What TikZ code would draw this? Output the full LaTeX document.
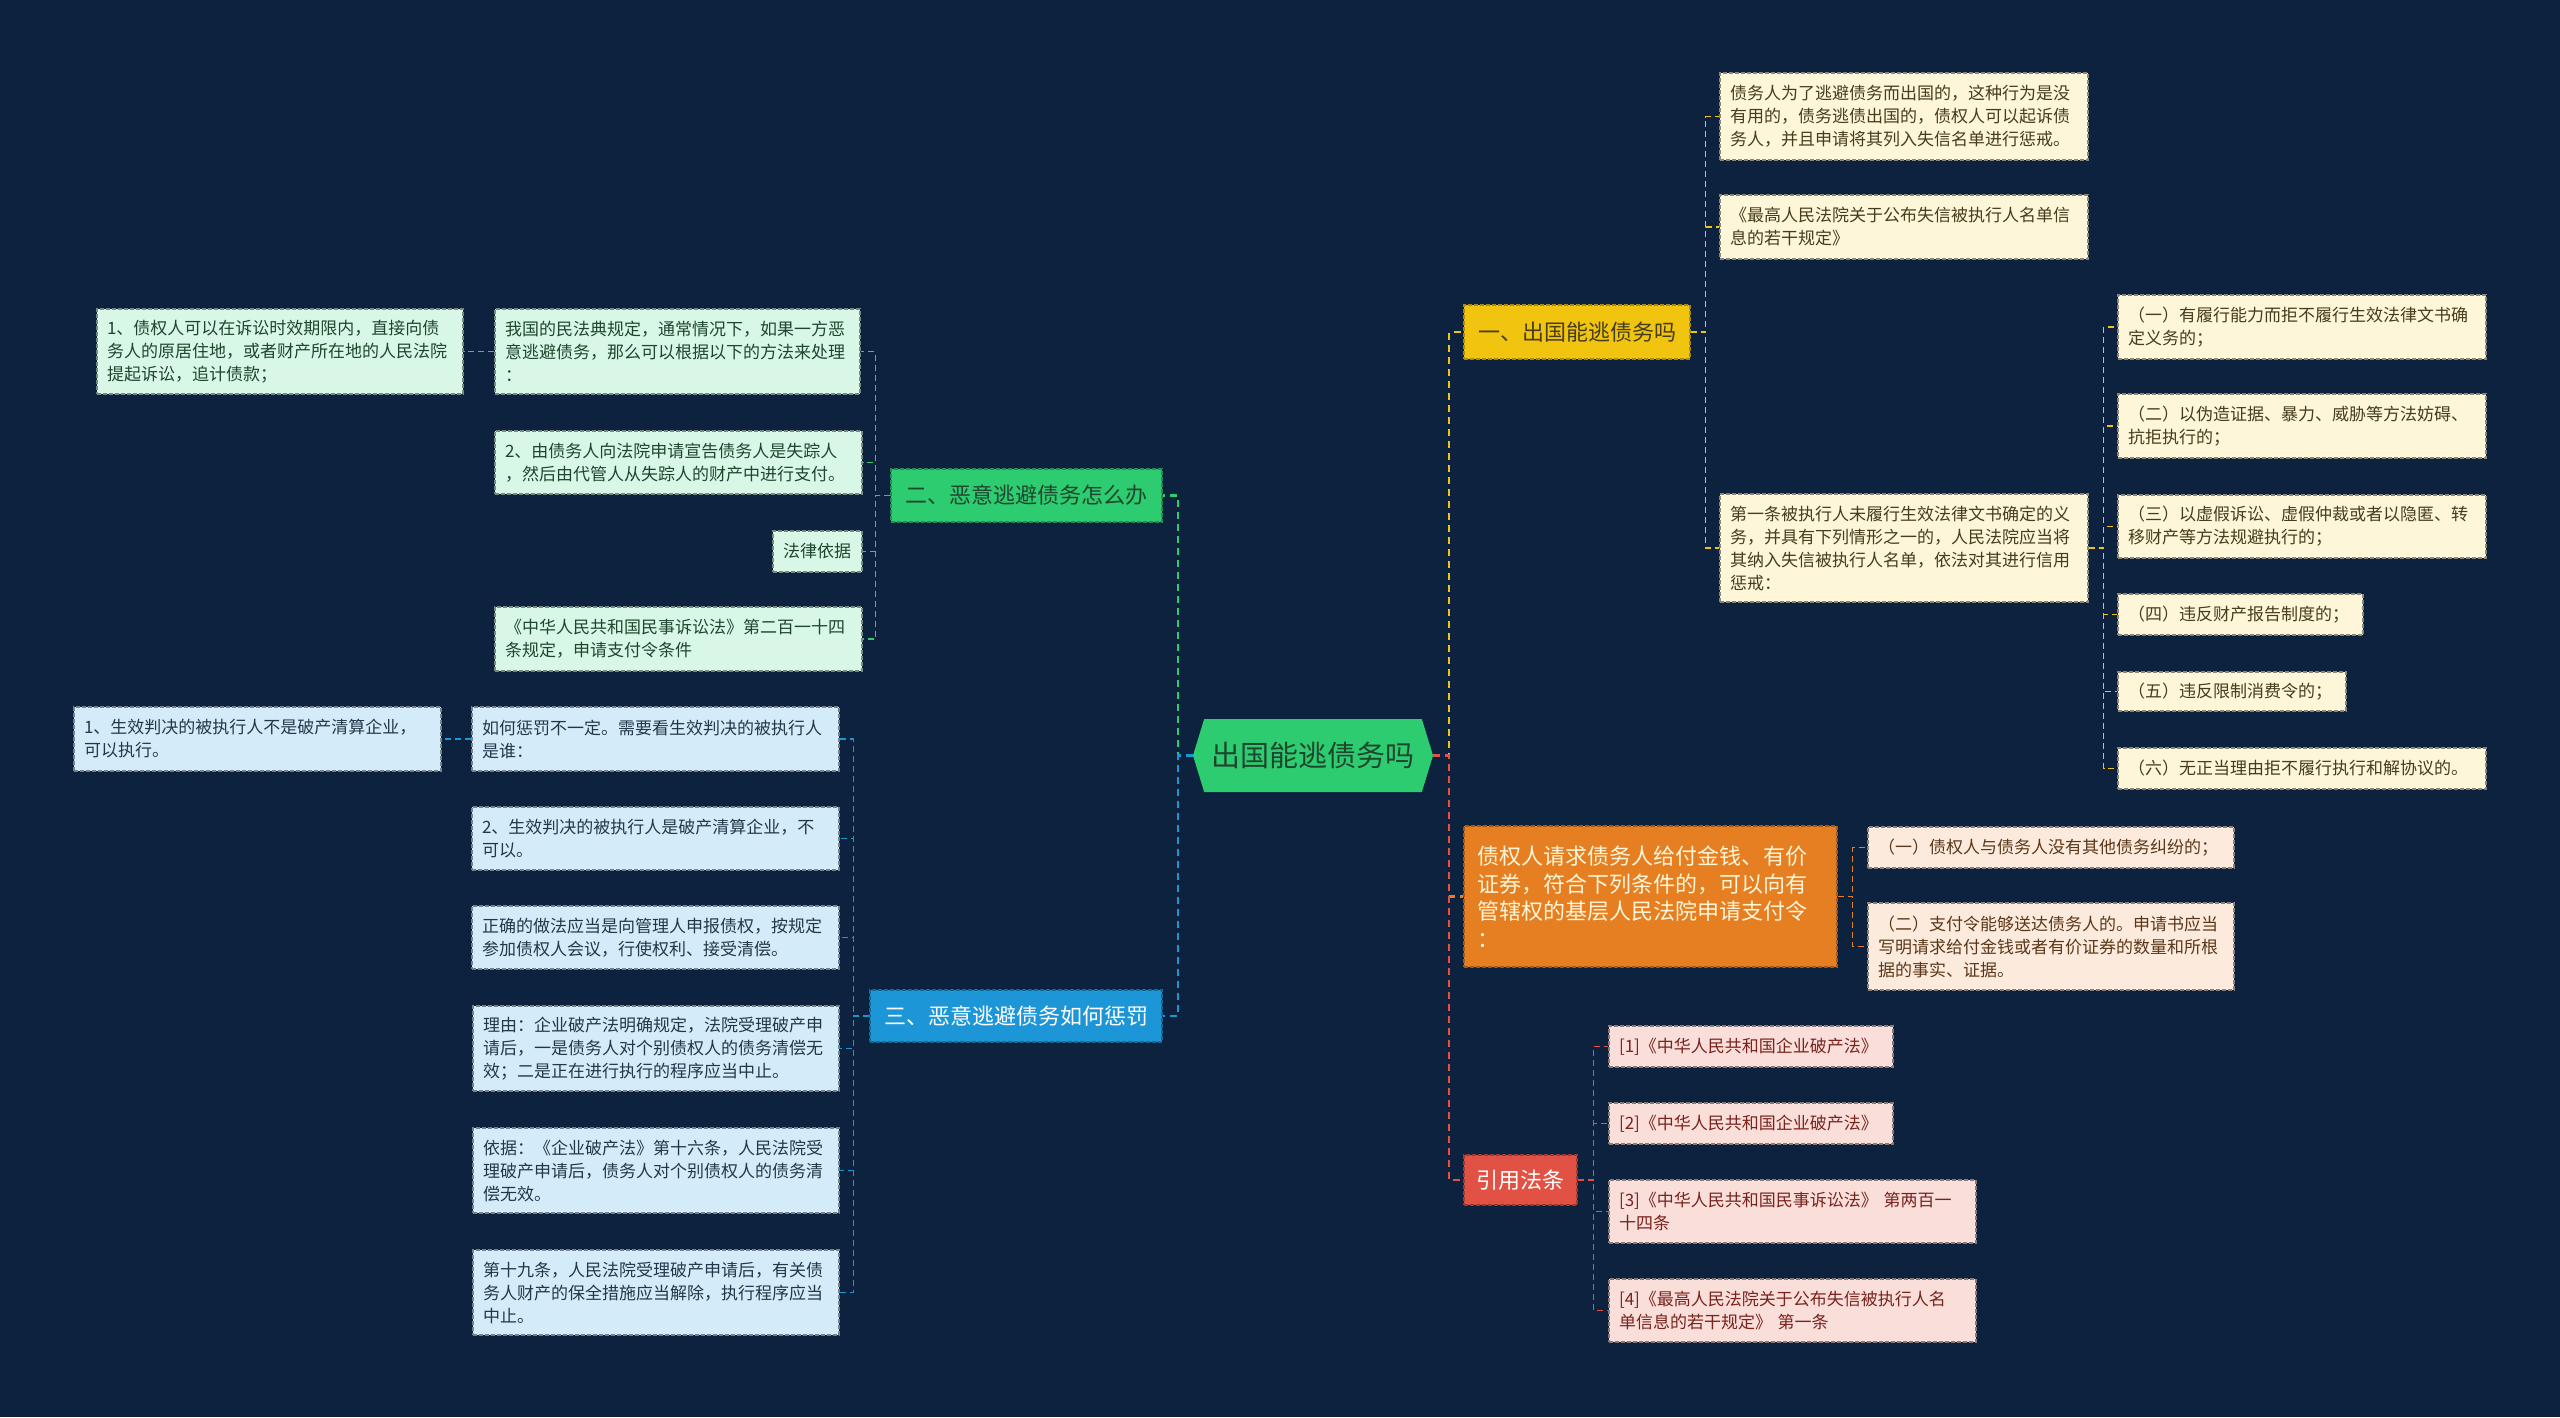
\documentclass[tikz,border=0pt]{standalone}
\usepackage{fontspec}
\setmainfont{Noto Sans CJK SC}
\usetikzlibrary{shapes.symbols}
\definecolor{bg}{RGB}{13,34,62}
\definecolor{cGreen}{RGB}{46,204,113}
\definecolor{cBlue}{RGB}{28,150,214}
\definecolor{cYellow}{RGB}{241,196,15}
\definecolor{cOrange}{RGB}{230,126,34}
\definecolor{cRed}{RGB}{226,82,68}
\definecolor{fY}{RGB}{253,246,216}
\definecolor{fG}{RGB}{217,247,230}
\definecolor{fB}{RGB}{212,236,249}
\definecolor{fO}{RGB}{252,235,221}
\definecolor{fR}{RGB}{250,222,218}
\definecolor{tY}{RGB}{70,60,30}
\definecolor{tG}{RGB}{30,70,45}
\definecolor{tB}{RGB}{35,55,75}
\definecolor{tO}{RGB}{90,55,25}
\definecolor{tR}{RGB}{120,35,28}
\tikzset{
  leaf/.style={rectangle, draw=#1!55!black, dash pattern=on 4pt off 2pt, line width=1.2pt,
    align=left, inner xsep=10pt, inner ysep=4pt, font=\fontsize{17pt}{23pt}\selectfont},
  leafY/.style={leaf=fY, fill=fY, text=tY},
  leafG/.style={leaf=fG, fill=fG, text=tG},
  leafB/.style={leaf=fB, fill=fB, text=tB},
  leafO/.style={leaf=fO, fill=fO, text=tO},
  leafR/.style={leaf=fR, fill=fR, text=tR},
  branch/.style={rectangle, draw=#1!70!black, dash pattern=on 4pt off 2pt, line width=1.2pt, fill=#1,
    inner sep=4pt, font=\fontsize{22pt}{27.5pt}\selectfont},
  conn/.style={line width=2.2pt, dash pattern=on 7pt off 5pt},
  cconn/.style={line width=1.6pt, dash pattern=on 6pt off 4pt},
}
\begin{document}
\begin{tikzpicture}[x=1pt,y=-1pt]
\fill[bg] (0,0) rectangle (2560,1417);
\useasboundingbox (0,0) rectangle (2560,1417);

% centre
\node[signal, signal to=west and east, signal pointer angle=146, fill=cGreen, text=tG,
  minimum width=240pt, minimum height=73pt, inner sep=0pt,
  font=\fontsize{29pt}{34pt}\selectfont] (ctr) at (1313,755.5) {出国能逃债务吗};
\coordinate (cl) at (ctr.west);
\coordinate (cr) at (ctr.east);

% right branch 1
\node[branch=cYellow, text=tY, minimum width=226pt, minimum height=54pt] (B1) at (1577,332) {一、出国能逃债务吗};
\node[leafY, text width=348pt, minimum height=87pt] (C1a) at (1904,116.5) {债务人为了逃避债务而出国的，这种行为是没\\有用的，债务逃债出国的，债权人可以起诉债\\务人，并且申请将其列入失信名单进行惩戒。};
\node[leafY, text width=348pt, minimum height=64pt] (C1b) at (1904,227) {《最高人民法院关于公布失信被执行人名单信\\息的若干规定》};
\node[leafY, text width=348pt, minimum height=108pt] (C1c) at (1904,548) {第一条被执行人未履行生效法律文书确定的义\\务，并具有下列情形之一的，人民法院应当将\\其纳入失信被执行人名单，依法对其进行信用\\惩戒：};
\node[leafY, text width=348pt, minimum height=64pt] (c1) at (2302,327) {（一）有履行能力而拒不履行生效法律文书确\\定义务的；};
\node[leafY, text width=348pt, minimum height=64pt] (c2) at (2302,426) {（二）以伪造证据、暴力、威胁等方法妨碍、\\抗拒执行的；};
\node[leafY, text width=348pt, minimum height=63pt] (c3) at (2302,526.5) {（三）以虚假诉讼、虚假仲裁或者以隐匿、转\\移财产等方法规避执行的；};
\node[leafY, text width=225pt, minimum height=41pt] (c4) at (2240.5,614.5) {（四）违反财产报告制度的；};
\node[leafY, text width=208pt, minimum height=39pt] (c5) at (2232,691.5) {（五）违反限制消费令的；};
\node[leafY, text width=348pt, minimum height=41pt] (c6) at (2302,768.5) {（六）无正当理由拒不履行执行和解协议的。};

% right branch 2
\node[branch=cOrange, text=fY, align=left, text width=347pt, inner xsep=13pt, minimum height=141pt] (B2) at (1650.5,896.5) {债权人请求债务人给付金钱、有价\\证券，符合下列条件的，可以向有\\管辖权的基层人民法院申请支付令\\：};
\node[leafO, text width=346pt, minimum height=41pt] (B2a) at (2051,847.5) {（一）债权人与债务人没有其他债务纠纷的；};
\node[leafO, text width=346pt, minimum height=87pt] (B2b) at (2051,946.5) {（二）支付令能够送达债务人的。申请书应当\\写明请求给付金钱或者有价证券的数量和所根\\据的事实、证据。};

% right branch 3
\node[branch=cRed, text=white, minimum width=113pt, minimum height=50pt] (B3) at (1520.5,1180) {引用法条};
\node[leafR, text width=264pt, minimum height=41pt] (r1) at (1751,1046.5) {[1]《中华人民共和国企业破产法》};
\node[leafR, text width=264pt, minimum height=41pt] (r2) at (1751,1123.5) {[2]《中华人民共和国企业破产法》};
\node[leafR, text width=347pt, minimum height=63pt] (r3) at (1792.5,1211.5) {[3]《中华人民共和国民事诉讼法》 第两百一\\十四条};
\node[leafR, text width=347pt, minimum height=63pt] (r4) at (1792.5,1310.5) {[4]《最高人民法院关于公布失信被执行人名\\单信息的若干规定》 第一条};

% left branch 1
\node[branch=cGreen, text=tG, minimum width=271pt, minimum height=53pt] (L1) at (1026.5,495.5) {二、恶意逃避债务怎么办};
\node[leafG, text width=345pt, minimum height=85pt] (L1a) at (677.5,351.5) {我国的民法典规定，通常情况下，如果一方恶\\意逃避债务，那么可以根据以下的方法来处理\\：};
\node[leafG, text width=346pt, minimum height=85pt] (L1a1) at (280,351.5) {1、债权人可以在诉讼时效期限内，直接向债\\务人的原居住地，或者财产所在地的人民法院\\提起诉讼，追计债款；};
\node[leafG, text width=347pt, minimum height=63pt] (L1b) at (678.5,462.5) {2、由债务人向法院申请宣告债务人是失踪人\\，然后由代管人从失踪人的财产中进行支付。};
\node[leafG, text width=69pt, minimum height=41pt] (L1c) at (817.5,551.5) {法律依据};
\node[leafG, text width=347pt, minimum height=64pt] (L1d) at (678.5,639) {《中华人民共和国民事诉讼法》第二百一十四\\条规定，申请支付令条件};

% left branch 2
\node[branch=cBlue, text=white, minimum width=292pt, minimum height=52pt] (L2) at (1016,1016) {三、恶意逃避债务如何惩罚};
\node[leafB, text width=347pt, minimum height=64pt] (L2a) at (655.5,739) {如何惩罚不一定。需要看生效判决的被执行人\\是谁：};
\node[leafB, text width=347pt, minimum height=64pt] (L2a1) at (257.5,739) {1、生效判决的被执行人不是破产清算企业，\\可以执行。};
\node[leafB, text width=347pt, minimum height=63pt] (L2b) at (655.5,838.5) {2、生效判决的被执行人是破产清算企业，不\\可以。};
\node[leafB, text width=347pt, minimum height=63pt] (L2c) at (655.5,937.5) {正确的做法应当是向管理人申报债权，按规定\\参加债权人会议，行使权利、接受清偿。};
\node[leafB, text width=346pt, minimum height=85pt] (L2d) at (656,1048.5) {理由：企业破产法明确规定，法院受理破产申\\请后，一是债务人对个别债权人的债务清偿无\\效；二是正在进行执行的程序应当中止。};
\node[leafB, text width=346pt, minimum height=85pt] (L2e) at (656,1170.5) {依据：《企业破产法》第十六条，人民法院受\\理破产申请后，债务人对个别债权人的债务清\\偿无效。};
\node[leafB, text width=346pt, minimum height=85pt] (L2f) at (656,1292.5) {第十九条，人民法院受理破产申请后，有关债\\务人财产的保全措施应当解除，执行程序应当\\中止。};

% main connectors
\draw[conn, cGreen] (cl) -- ++(-15,0) |- (L1.east);
\draw[conn, cBlue] (cl) -- ++(-15,0) |- (L2.east);
\draw[conn, cYellow] (cr) -- ++(16,0) |- (B1.west);
\draw[conn, cOrange] (cr) -- ++(16,0) |- (B2.west);
\draw[conn, cRed] (cr) -- ++(16,0) |- (B3.west);

% child connectors
\foreach \n in {C1a,C1b,C1c} \draw[cconn, cYellow] (B1.east) -- ++(15,0) |- (\n.west);
\foreach \n in {c1,c2,c3,c4,c5,c6} \draw[cconn, cYellow] (C1c.east) -- ++(15,0) |- (\n.west);
\foreach \n in {B2a,B2b} \draw[cconn, cOrange] (B2.east) -- ++(15,0) |- (\n.west);
\foreach \n in {r1,r2,r3,r4} \draw[cconn, cRed] (B3.east) -- ++(16,0) |- (\n.west);
\foreach \n in {L1a,L1b,L1c,L1d} \draw[cconn, cGreen] (L1.west) -- ++(-15,0) |- (\n.east);
\draw[cconn, cGreen] (L1a.west) -- (L1a1.east);
\foreach \n in {L2a,L2b,L2c,L2d,L2e,L2f} \draw[cconn, cBlue] (L2.west) -- ++(-16,0) |- (\n.east);
\draw[cconn, cBlue] (L2a.west) -- (L2a1.east);
\end{tikzpicture}
\end{document}
